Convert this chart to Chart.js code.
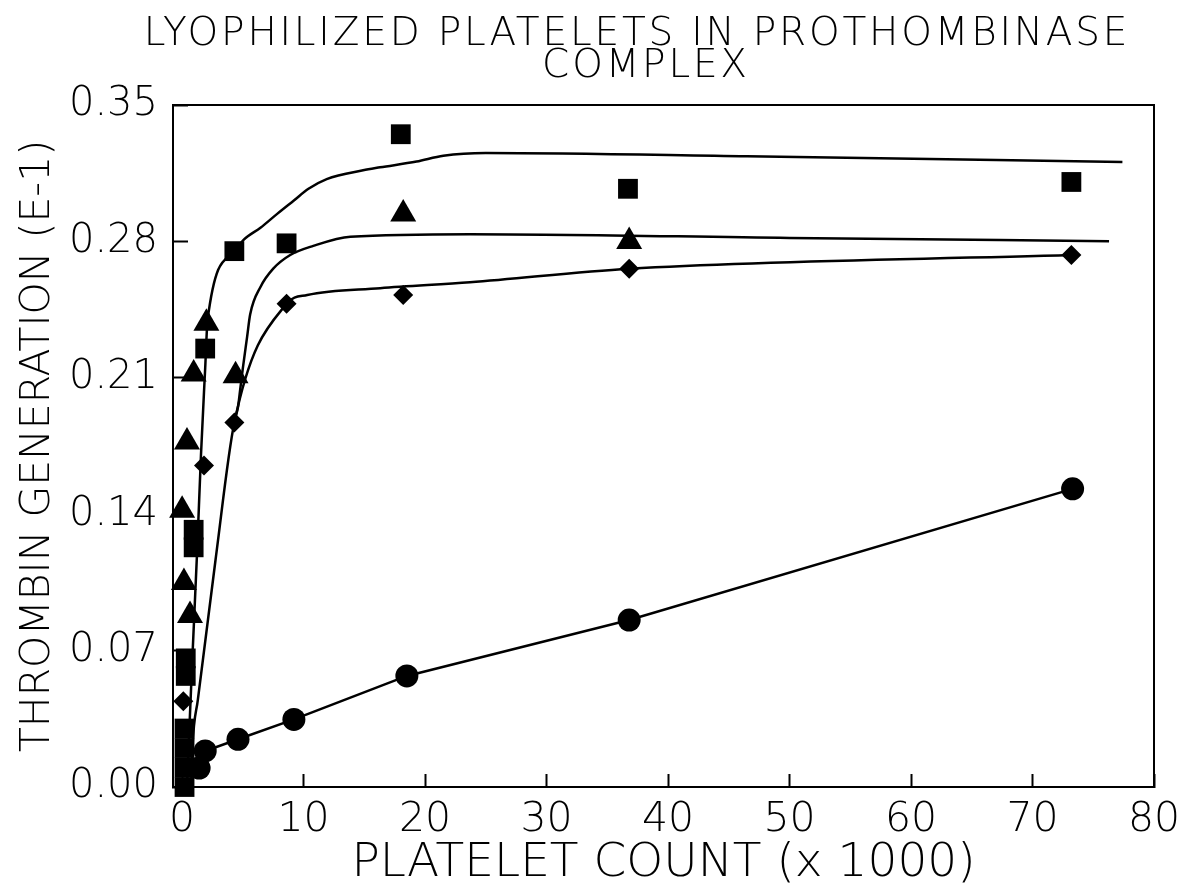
<!DOCTYPE html>
<html>
<head>
<meta charset="utf-8">
<script src="https://cdn.jsdelivr.net/npm/chart.js@4.4.1/dist/chart.umd.min.js"></script>
<style>
  html, body { margin: 0; padding: 0; background: #ffffff; }
  #wrap { width: 1197px; height: 888px; }
</style>
</head>
<body>
<div id="wrap"><canvas id="c" width="1197" height="888"></canvas></div>
<script>
// ---------- text ----------
const titleLines = ['LYOPHILIZED PLATELETS IN PROTHOMBINASE', 'COMPLEX'];
const xAxisTitle = 'PLATELET COUNT (x 1000)';
const yAxisTitle = 'THROMBIN GENERATION (E-1)';

// ---------- tick labels ----------
const xTickValues = [0, 10, 20, 30, 40, 50, 60, 70, 80];
const yTickValues = [0.00, 0.07, 0.14, 0.21, 0.28, 0.35];

const squareX = [0.2, 0.2, 0.2, 0.2, 0.3, 0.3, 0.95, 0.95, 1.9, 4.3, 8.6, 18.0, 36.7, 73.2];
const squareY = [0.000, 0.010, 0.020, 0.030, 0.057, 0.066, 0.123, 0.132, 0.225, 0.275, 0.279, 0.335, 0.307, 0.3105];

const triangleX = [0.0, 0.15, 0.65, 0.4, 0.95, 2.0, 4.4, 18.2, 36.8];
const triangleY = [0.142, 0.105, 0.088, 0.177, 0.212, 0.238, 0.211, 0.294, 0.280];

const diamondX = [0.1, 1.8, 4.3, 8.6, 18.2, 36.8, 73.2];
const diamondY = [0.044, 0.165, 0.187, 0.248, 0.2525, 0.266, 0.273];

const circleX = [1.4, 1.9, 4.6, 9.2, 18.5, 36.8, 73.3];
const circleY = [0.0097, 0.0185, 0.0245, 0.0347, 0.057, 0.0857, 0.153];

// ---------- fitted curves ----------
const topCurveX = [0.4, 0.8, 1.25, 1.55, 1.9, 2.1, 4.3, 5.1, 6.45, 7.8, 9.2, 10.4, 11.9, 14.9, 16.3, 19.3, 21.5, 25, 46.5, 77.4];
const topCurveY = [0.0, 0.06, 0.123, 0.17, 0.215, 0.24, 0.275, 0.281, 0.287, 0.294, 0.301, 0.307, 0.312, 0.3165, 0.318, 0.321, 0.324, 0.3254, 0.3237, 0.3208];

const midCurveX = [4.3, 4.6, 4.8, 5.0, 5.35, 5.6, 6.45, 7.5, 8.9, 10.8, 13.85, 23.7, 50, 76.3];
const midCurveY = [0.188, 0.195, 0.205, 0.215, 0.231, 0.2425, 0.2566, 0.266, 0.273, 0.2777, 0.2824, 0.2837, 0.2818, 0.2801];

const diaCurveX = [0.75, 0.85, 1.3, 2.75, 4.3, 8.6, 10.3, 16.3, 23.7, 36.8, 73.2];
const diaCurveY = [0.0, 0.02, 0.045, 0.1165, 0.187, 0.248, 0.2525, 0.256, 0.259, 0.266, 0.273];

function pts(xs, ys) { return xs.map((x, i) => ({ x: x, y: ys[i] })); }

const FONT = "'DejaVu Sans', 'Liberation Sans', sans-serif";
const INK = '#000000';

const titlePlugin = {
  id: 'plotTitle',
  afterDraw(chart) {
    const ctx = chart.ctx;
    ctx.save();
    ctx.fillStyle = INK;
    ctx.font = "200 39px " + FONT;
    if ('letterSpacing' in ctx) ctx.letterSpacing = '2.8px';
    ctx.textAlign = 'center';
    ctx.textBaseline = 'alphabetic';
    ctx.fillText(titleLines[0], 637, 45);
    ctx.fillText(titleLines[1], 646, 77);
    ctx.restore();
  }
};

const framePlugin = {
  id: 'frame',
  beforeDatasetsDraw(chart) {
    const a = chart.chartArea, ctx = chart.ctx;
    ctx.save();
    ctx.strokeStyle = INK;
    ctx.lineWidth = 2;
    ctx.strokeRect(a.left, a.top, a.right - a.left, a.bottom - a.top);
    ctx.restore();
  }
};

const markerBase = { showLine: false, backgroundColor: INK, borderColor: INK, borderWidth: 0, clip: false };
const curveBase = { showLine: true, pointRadius: 0, pointHoverRadius: 0, borderColor: INK, borderWidth: 2.5,
                    backgroundColor: INK, cubicInterpolationMode: 'monotone', fill: false };

new Chart(document.getElementById('c'), {
  type: 'scatter',
  data: {
    datasets: [
      Object.assign({ label: 'Squares', data: pts(squareX, squareY), pointStyle: 'rect', pointRadius: 14 }, markerBase),
      Object.assign({ label: 'Triangles', data: pts(triangleX, triangleY), pointStyle: 'triangle', pointRadius: 15 }, markerBase),
      Object.assign({ label: 'Diamonds', data: pts(diamondX, diamondY), pointStyle: 'rectRot', pointRadius: 10 }, markerBase),
      { label: 'Circles', data: pts(circleX, circleY), showLine: true, pointStyle: 'circle', pointRadius: 11.5,
        backgroundColor: INK, borderColor: INK, borderWidth: 2.5, pointBorderWidth: 0, clip: false },
      Object.assign({ label: 'Square fit', data: pts(topCurveX, topCurveY) }, curveBase),
      Object.assign({ label: 'Triangle fit', data: pts(midCurveX, midCurveY) }, curveBase),
      Object.assign({ label: 'Diamond fit', data: pts(diaCurveX, diaCurveY) }, curveBase)
    ]
  },
  options: {
    responsive: false,
    animation: false,
    devicePixelRatio: 1,
    layout: { padding: { top: 105, right: 43, bottom: 0, left: 14 } },
    plugins: {
      legend: { display: false },
      tooltip: { enabled: false },
      title: { display: false }
    },
    scales: {
      x: {
        type: 'linear',
        min: -0.75,
        max: 80,
        afterBuildTicks: s => { s.ticks = xTickValues.map(v => ({ value: v })); },
        afterFit: s => { s.height = 101; s.paddingLeft = 0; s.paddingRight = 0; },
        grid: { drawOnChartArea: false, drawTicks: true, tickLength: -13, tickColor: INK, tickWidth: 2 },
        border: { display: true, color: INK, width: 2 },
        ticks: { color: INK, padding: 22, maxRotation: 0, autoSkip: false,
                 font: { family: FONT, size: 41, weight: '200' },
                 callback: v => String(v) },
        title: { display: true, text: xAxisTitle, color: INK, padding: { top: 0, bottom: 1 },
                 font: { family: FONT, size: 47, weight: '200', lineHeight: 1 } }
      },
      y: {
        type: 'linear',
        min: 0,
        max: 0.35,
        afterBuildTicks: s => { s.ticks = yTickValues.map(v => ({ value: v })); },
        afterFit: s => { s.width = 159; },
        grid: { drawOnChartArea: false, drawTicks: true, tickLength: -15, tickColor: INK, tickWidth: 2 },
        border: { display: true, color: INK, width: 2 },
        ticks: { color: INK, padding: 30, autoSkip: false,
                 font: { family: FONT, size: 40, weight: '200' },
                 callback: v => Number(v).toFixed(2) },
        title: { display: true, text: yAxisTitle, color: INK, padding: { top: 0, bottom: 11 },
                 font: { family: FONT, size: 41, weight: '200' } }
      }
    }
  },
  plugins: [framePlugin, titlePlugin]
});
</script>
</body>
</html>
